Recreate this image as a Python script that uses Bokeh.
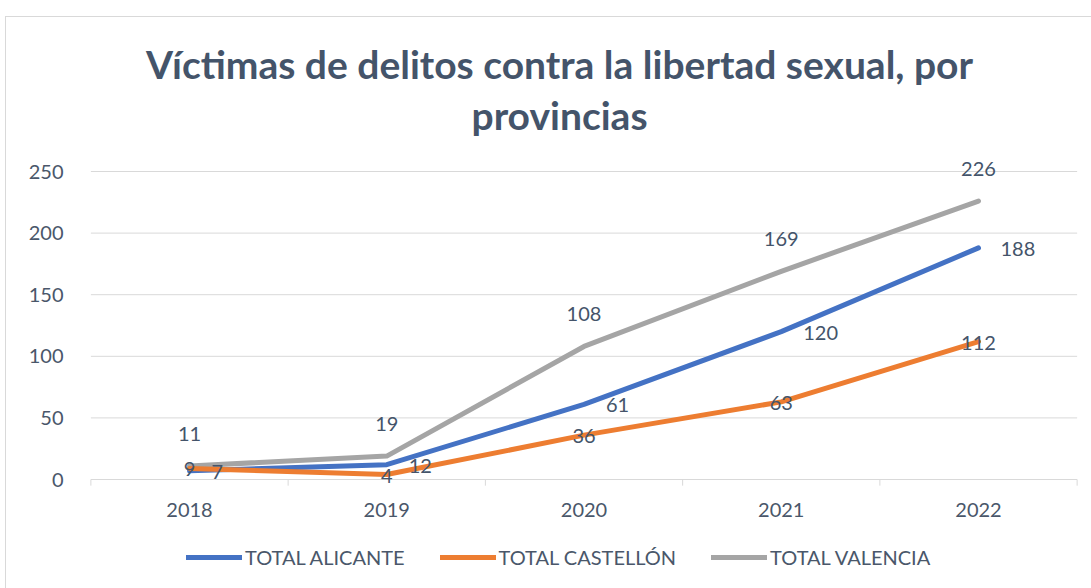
from bokeh.plotting import figure
from bokeh.models import Legend, LegendItem, ColumnDataSource, Range1d
from bokeh.core.properties import value
from bokeh.embed import file_html
from bokeh.resources import INLINE

years = [2018, 2019, 2020, 2021, 2022]
alicante = [7, 12, 61, 120, 188]
castellon = [9, 4, 36, 63, 112]
valencia = [11, 19, 108, 169, 226]
series_names = ["TOTAL ALICANTE", "TOTAL CASTELLÓN", "TOTAL VALENCIA"]
colors = ["#4472C4", "#ED7D31", "#A5A5A5"]
y_ticks = [0, 50, 100, 150, 200, 250]
title_lines = ["Víctimas de delitos contra la libertad sexual, por", "provincias"]

FONT = "Lato"
TXT = "#4A576A"
GRID = "#D9D9D9"

# layout (pixels inside the figure canvas)
W, H = 1086, 572
X0_PX, DX_PX = 183.0, 197.25     # first category centre, category spacing
Y0_PX, DY_PX = 462.0, 1.232      # y=0 position from top, px per unit

x_start = years[0] - X0_PX / DX_PX
x_end = years[0] + (W - X0_PX) / DX_PX
y_end = Y0_PX / DY_PX
y_start = -(H - Y0_PX) / DY_PX

p = figure(width=W, height=H, output_backend="svg", toolbar_location=None,
           x_range=Range1d(x_start, x_end), y_range=Range1d(y_start, y_end),
           min_border=0, margin=(16, 0, 0, 5))
p.styles = {"border-left": "1px solid #D9D9D9", "border-top": "1px solid #D9D9D9"}
p.axis.visible = False
p.grid.visible = False
p.outline_line_color = None
p.background_fill_color = "white"
p.border_fill_color = "white"

def px_to_y(py):
    return (Y0_PX - py) / DY_PX

def px_to_x(px):
    return years[0] + (px - X0_PX) / DX_PX

# title
title_x = px_to_x(553)
p.text(x=[title_x, title_x], y=[px_to_y(46), px_to_y(97)], text=title_lines,
       text_align="center", text_baseline="middle", text_font=value(FONT),
       text_font_size="39px", text_font_style="bold", text_color="#44546A")

# horizontal gridlines
gx0, gx1 = years[0] - 0.5, years[-1] + 0.5
p.segment(x0=[gx0] * len(y_ticks), x1=[gx1] * len(y_ticks), y0=y_ticks, y1=y_ticks,
          line_color=GRID, line_width=1)

# y tick labels
p.text(x=[x_start] * len(y_ticks), y=y_ticks, text=[str(t) for t in y_ticks],
       x_offset=57, text_align="right", text_baseline="middle",
       text_font=value(FONT), text_font_size="20px", text_color=TXT)

# x axis tick marks at category boundaries
bounds = [y - 0.5 for y in years] + [years[-1] + 0.5]
p.segment(x0=bounds, x1=bounds, y0=[0] * len(bounds), y1=[-5] * len(bounds),
          line_color=GRID, line_width=1)

# x tick labels
p.text(x=years, y=[0] * len(years), text=[str(y) for y in years], y_offset=30,
       text_align="center", text_baseline="middle",
       text_font=value(FONT), text_font_size="20px", text_color=TXT)

src = ColumnDataSource(dict(x=years, a=alicante, c=castellon, v=valencia,
                            at=[str(v) for v in alicante], ct=[str(v) for v in castellon],
                            vt=[str(v) for v in valencia]))

rv = p.line("x", "v", source=src, line_color=colors[2], line_width=5,
            line_join="round", line_cap="round")
ra = p.line("x", "a", source=src, line_color=colors[0], line_width=5,
            line_join="round", line_cap="round")
rc = p.line("x", "c", source=src, line_color=colors[1], line_width=5,
            line_join="round", line_cap="round")

lab = dict(text_font=value(FONT), text_font_size="20px", text_color="#44546A")
p.text("x", "v", text="vt", source=src, text_align="center", text_baseline="middle",
       y_offset=-32, **lab)
p.text("x", "a", text="at", source=src, text_align="left", text_baseline="middle",
       x_offset=22, y_offset=1, **lab)
p.text("x", "c", text="ct", source=src, text_align="center", text_baseline="middle",
       y_offset=1, **lab)

legend = Legend(items=[LegendItem(label=series_names[0], renderers=[ra]),
                       LegendItem(label=series_names[1], renderers=[rc]),
                       LegendItem(label=series_names[2], renderers=[rv])],
                orientation="horizontal", location=(180, 20),
                label_text_font=FONT, label_text_font_size="20px", label_text_color=TXT,
                glyph_width=56, label_standoff=3, spacing=35, border_line_color=None,
                background_fill_alpha=0, margin=0, padding=0, label_height=20, glyph_height=20)
p.add_layout(legend, "center")

open("out.html", "w").write(file_html(p, INLINE))
